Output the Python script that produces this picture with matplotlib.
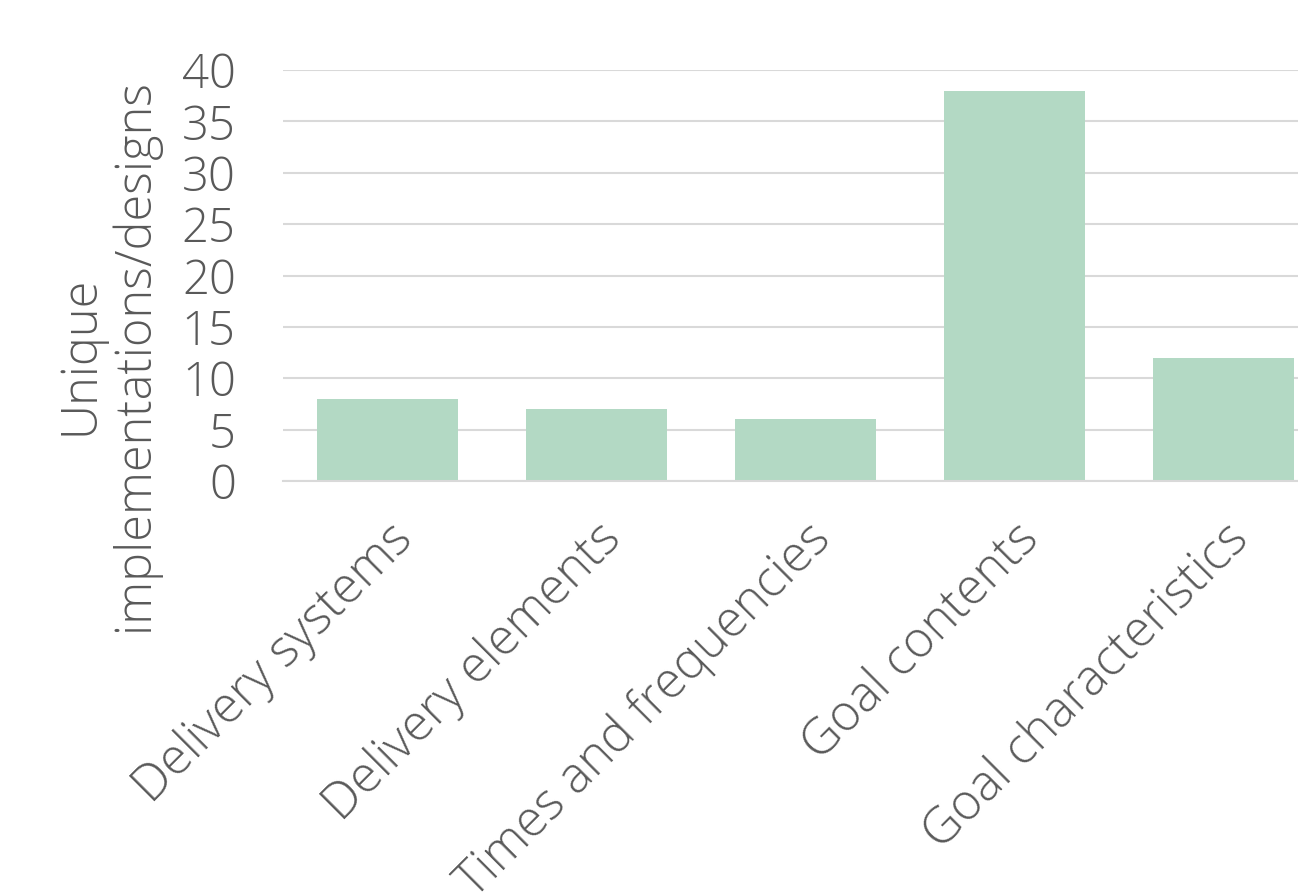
import matplotlib.pyplot as plt

# data
categories = ["Delivery systems", "Delivery elements", "Times and frequencies",
              "Goal contents", "Goal characteristics"]
values = [8, 7, 6, 38, 12]
yticks = [0, 5, 10, 15, 20, 25, 30, 35, 40]

text_color = "#595959"
bar_color = "#b3d9c4"
grid_color = "#d9d9d9"

plt.rcParams['font.family'] = ['Open Sans', 'DejaVu Sans']

fig = plt.figure(figsize=(12.98, 8.93), dpi=100)
ax = fig.add_axes([283 / 1298, 1 - 481 / 893, 1045 / 1298, 411 / 893])

x = list(range(len(categories)))
ax.bar(x, values, width=0.675, color=bar_color, zorder=2)

ax.set_xlim(-0.5, len(categories) - 0.5)
ax.set_ylim(0, 40)
ax.set_yticks(yticks)
ax.set_yticklabels([str(t) for t in yticks], fontsize=34, color=text_color, fontweight='light')
ax.grid(axis='y', color=grid_color, linewidth=1.5, zorder=0)
ax.tick_params(axis='y', length=0, pad=34)
ax.tick_params(axis='x', length=0, pad=24)

ax.set_xticks(x)
ax.set_xticklabels(categories, rotation=45, ha='right', va='top', rotation_mode='anchor',
                   fontsize=36, color=text_color, fontweight='light')

for s in ['top', 'right', 'left']:
    ax.spines[s].set_visible(False)
ax.spines['bottom'].set_color(grid_color)
ax.spines['bottom'].set_linewidth(1.5)

fig.text(108 / 1298, 1 - 355 / 893, "Unique\nimplementations/designs", rotation=90,
         ha='center', va='center', multialignment='center',
         fontsize=35, color=text_color, fontweight='light', linespacing=1.1)

fig.savefig("out.png", dpi=100)
